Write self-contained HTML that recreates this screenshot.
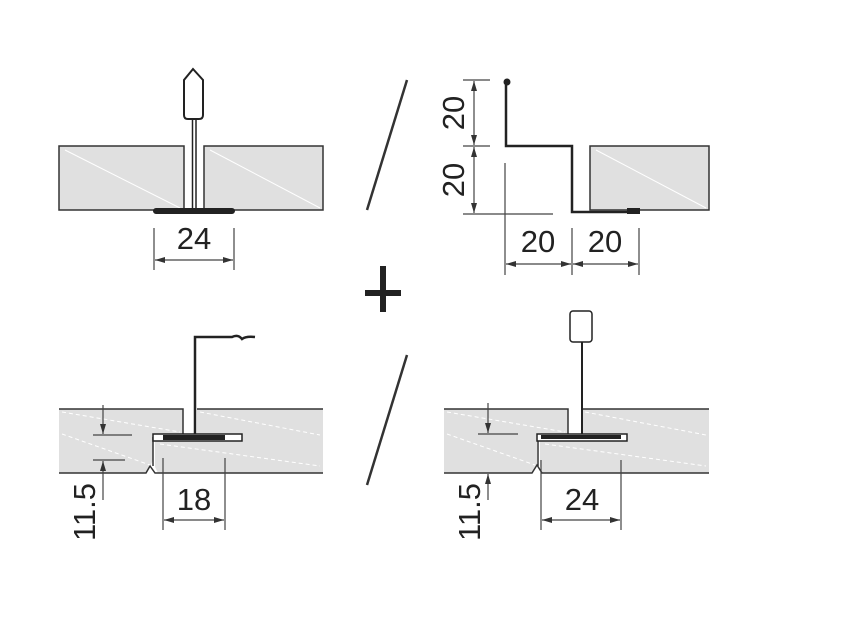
<!DOCTYPE html>
<html><head><meta charset="utf-8"><style>html,body{margin:0;padding:0;background:#fff}svg{display:block}</style></head>
<body>
<svg width="850" height="624" viewBox="0 0 850 624" xmlns="http://www.w3.org/2000/svg" font-family="Liberation Sans, sans-serif">
<defs>
<marker id="a" viewBox="0 0 10 6" refX="10" refY="3" markerWidth="10" markerHeight="6" orient="auto-start-reverse" markerUnits="userSpaceOnUse"><path d="M0,0 L10,3 L0,6 z" fill="#333"/></marker>
</defs>
<g stroke="#333" stroke-width="1.5" fill="#e0e0e0">
<rect x="59" y="146" width="125" height="64"/>
<rect x="204" y="146" width="119" height="64"/>
<rect x="590" y="146" width="119" height="64"/>
<path d="M59,409 H183 V435 H153 V460 L150,467 L146,473 H59 Z" stroke="none"/>
<path d="M197,409 H323 V473 H158 L155,467 V441 H242 V434 H197 Z" stroke="none"/>
<path d="M59,409 H183 V435" fill="none"/><path d="M197,409 H323" fill="none"/>
<path d="M59,473 H146 L150,466 L155,473 H323" fill="none"/>
<path d="M153,437 V466" fill="none"/>
<path d="M444,409 H568 V434 H537 V466 L532,473 H444 Z" stroke="none"/>
<path d="M582,409 H709 V473 H542 L540,466 V441 H627 V434 H582 Z" stroke="none"/>
<path d="M444,409 H568 V434" fill="none"/><path d="M582,409 H709" fill="none"/>
<path d="M444,473 H532 L537,465 L542,473 H709" fill="none"/>
<path d="M538,437 V466" fill="none"/>
</g>
<g stroke="#fff" stroke-width="1" fill="none">
<path d="M65,150 L180,208"/><path d="M210,150 L320,208"/><path d="M596,150 L706,208"/>
</g>
<g stroke="#fff" stroke-width="1" fill="none" stroke-dasharray="4,3">
<path d="M62,412 L180,432"/><path d="M62,434 L150,465"/><path d="M200,412 L320,435"/><path d="M160,444 L320,466"/>
<path d="M447,412 L565,432"/><path d="M447,434 L535,465"/><path d="M585,412 L706,435"/><path d="M545,444 L706,466"/>
</g>
<g stroke="#222" fill="none" stroke-width="2">
<path d="M192.5,120 V210 M196,120 V210" stroke-width="1.5"/>
<path d="M193,69 L203,80 V115 Q203,119 199,119 H188 Q184,119 184,115 V80 Z" fill="#fff"/>
<rect x="154" y="209" width="80" height="4" fill="#222" rx="2"/>
<path d="M506,82 V146 H572 V212 H638" stroke-width="2.5"/>
<circle cx="507" cy="82" r="2.5" fill="#222"/>
<rect x="628" y="209" width="11" height="4" fill="#222"/>
<path d="M195,436 V337 H232 Q238,334 242,339 Q246,336 255,337" stroke-width="2.5"/>
<rect x="153" y="434" width="89" height="7" fill="#fff" stroke-width="1.5"/>
<rect x="163" y="435" width="62" height="5" fill="#222" stroke="none"/>
<path d="M582,342 V436" stroke-width="2"/>
<rect x="570" y="311" width="22" height="31" rx="3" fill="#fff" stroke-width="1.5"/>
<rect x="537" y="434" width="90" height="7" fill="#fff" stroke-width="1.5"/>
<rect x="541" y="435" width="80" height="4" fill="#222" stroke="none"/>
</g>
<g stroke="#444" stroke-width="1.2" fill="none">
<path d="M154,228 V270 M234,228 V270"/>
<path d="M155,260 H233" marker-start="url(#a)" marker-end="url(#a)"/>
<path d="M463,80 H490 M463,146 H490 M463,214 H553"/>
<path d="M474,81 V145" marker-start="url(#a)" marker-end="url(#a)"/>
<path d="M474,147 V213" marker-start="url(#a)" marker-end="url(#a)"/>
<path d="M505,163 V275 M572,228 V275 M639,228 V275"/>
<path d="M506,264 H571" marker-start="url(#a)" marker-end="url(#a)"/>
<path d="M573,264 H638" marker-start="url(#a)" marker-end="url(#a)"/>
<path d="M93,435 H132 M93,460 H125"/>
<path d="M103,405 V434" marker-end="url(#a)"/>
<path d="M103,500 V461" marker-end="url(#a)"/>
<path d="M163,458 V530 M225,458 V530"/>
<path d="M164,520 H224" marker-start="url(#a)" marker-end="url(#a)"/>
<path d="M478,434 H518 M478,473 H510"/>
<path d="M488,403 V433" marker-end="url(#a)"/>
<path d="M488,500 V474" marker-end="url(#a)"/>
<path d="M541,460 V530 M621,460 V530"/>
<path d="M542,520 H620" marker-start="url(#a)" marker-end="url(#a)"/>
</g>
<g stroke="#333" stroke-width="2.5"><path d="M407,80 L367,210"/><path d="M407,355 L367,485"/></g>
<rect x="380" y="266" width="6" height="46" fill="#222"/>
<rect x="365" y="290" width="36" height="6" fill="#222"/>
<g fill="#222" font-size="31" text-anchor="middle">
<text x="194" y="249">24</text>
<text x="538" y="252">20</text>
<text x="605" y="252">20</text>
<text x="194" y="510">18</text>
<text x="582" y="510">24</text>
<text transform="translate(464,113) rotate(-90)">20</text>
<text transform="translate(464,180) rotate(-90)">20</text>
<text transform="translate(95,512) rotate(-90)">11.5</text>
<text transform="translate(480,512) rotate(-90)">11.5</text>
</g>
</svg>
</body></html>
